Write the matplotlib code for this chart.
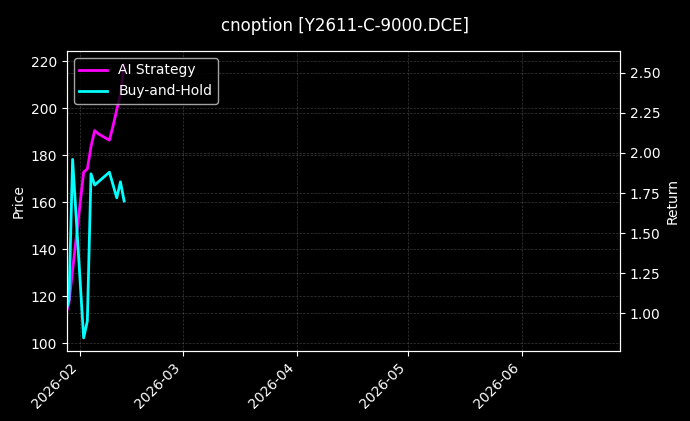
import numpy as np
import pandas as pd
import matplotlib
matplotlib.use("Agg")
import matplotlib.pyplot as plt
import matplotlib.dates as mdates

# data
dates = pd.to_datetime([
    "2026-01-28", "2026-01-29", "2026-01-30", "2026-02-02", "2026-02-03",
    "2026-02-04", "2026-02-05", "2026-02-06", "2026-02-09", "2026-02-10",
    "2026-02-11", "2026-02-12", "2026-02-13",
])
ai_strategy = [0.98, 1.06, 1.27, 1.88, 1.90, 2.04, 2.14, 2.12, 2.08, 2.17,
               2.27, 2.37, 2.55]
buy_hold = [1.00, 1.08, 1.96, 0.845, 0.95, 1.87, 1.80, 1.82, 1.88, 1.80,
            1.72, 1.82, 1.70]

title = "cnoption [Y2611-C-9000.DCE]"
x_start = pd.Timestamp("2026-01-28 11:00")
x_end = pd.Timestamp("2026-06-27 18:00")

plt.style.use("dark_background")
fig, ax = plt.subplots(figsize=(6.9, 4.21), dpi=100)
fig.subplots_adjust(left=0.097, right=0.8986, top=0.879, bottom=0.166)

ax.set_ylabel("Price")
ax.set_ylim(96.6, 224.3)
ax.grid(True, linestyle="--", linewidth=0.5, alpha=0.22)

ax2 = ax.twinx()
ax2.plot(dates, ai_strategy, color="#ff00ff", linewidth=2, label="AI Strategy")
ax2.plot(dates, buy_hold, color="#00ffff", linewidth=2, label="Buy-and-Hold")
ax2.set_ylabel("Return")
ax2.set_ylim(0.7625, 2.6375)
ax2.grid(True, axis="y", linestyle="--", linewidth=0.5, alpha=0.22)
ax2.legend(loc="upper left")

ax.set_xlim(x_start, x_end)
ax.xaxis.set_major_locator(mdates.MonthLocator())
ax.xaxis.set_major_formatter(mdates.DateFormatter("%Y-%m"))
plt.setp(ax.get_xticklabels(), rotation=45, ha="right")

fig.suptitle(title, fontsize=12, y=0.96)

fig.savefig("out.png", dpi=100)
